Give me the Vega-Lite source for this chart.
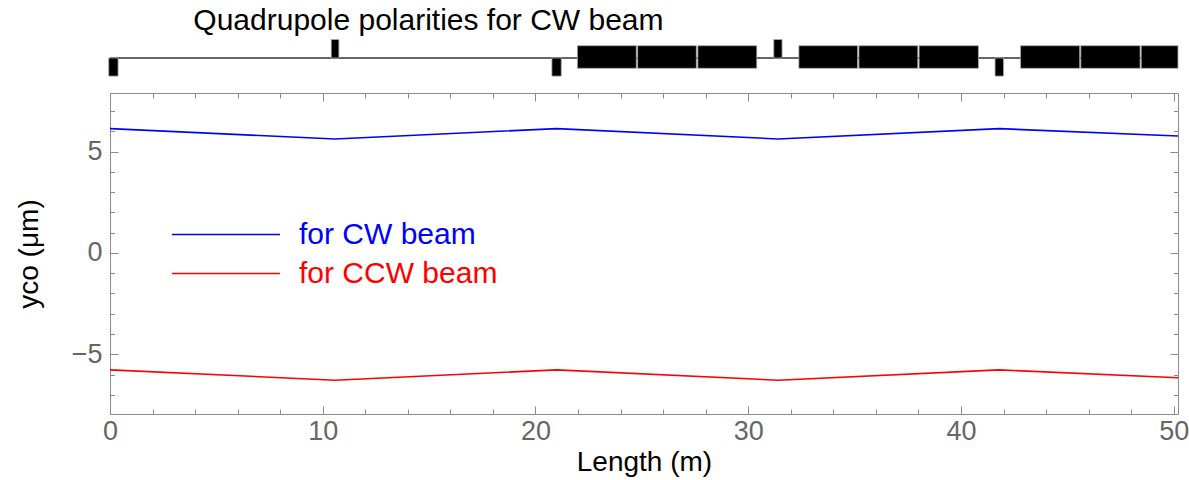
{
  "$schema": "https://vega.github.io/schema/vega-lite/v6.json",
  "background": "white",
  "padding": {"left": 15, "top": 6, "right": 5, "bottom": 2},
  "spacing": 15,
  "config": {
    "view": {"stroke": null},
    "font": "Liberation Sans",
    "axis": {
      "labelFont": "Liberation Sans",
      "titleFont": "Liberation Sans",
      "domainColor": "#8c8c8c",
      "tickColor": "#8c8c8c",
      "labelColor": "#666666",
      "titleColor": "#000000",
      "titleFontWeight": "normal",
      "labelFontSize": 27,
      "titleFontSize": 28,
      "grid": false,
      "labelOverlap": false,
      "labelFlush": false,
      "tickWidth": 1,
      "domainWidth": 1
    }
  },
  "vconcat": [
    {
      "width": 1068,
      "height": 38,
      "title": {
        "text": "Quadrupole polarities for CW beam",
        "anchor": "start",
        "dx": 85,
        "fontSize": 30,
        "fontWeight": "normal",
        "font": "Liberation Sans",
        "color": "#000000",
        "baseline": "alphabetic",
        "offset": -21
      },
      "layer": [
        {
          "data": {"values": [{}]},
          "mark": {"type": "rule", "color": "#333333", "strokeWidth": 1.5},
          "encoding": {
            "y": {"datum": 0, "type": "quantitative", "scale": {"domain": [-1.05, 1.05], "nice": false}, "axis": null}
          }
        },
        {
          "data": {"values": [
            {"element": "quad", "s_start": -0.06, "s_end": 0.38, "y_lo": -1, "y_hi": 0},
            {"element": "quad", "s_start": 10.40, "s_end": 10.76, "y_lo": 0, "y_hi": 1.02},
            {"element": "quad", "s_start": 20.77, "s_end": 21.21, "y_lo": -1, "y_hi": 0},
            {"element": "dipole", "s_start": 21.97, "s_end": 24.74, "y_lo": -0.57, "y_hi": 0.68},
            {"element": "dipole", "s_start": 24.80, "s_end": 27.56, "y_lo": -0.57, "y_hi": 0.68},
            {"element": "dipole", "s_start": 27.63, "s_end": 30.40, "y_lo": -0.57, "y_hi": 0.68},
            {"element": "quad", "s_start": 31.20, "s_end": 31.59, "y_lo": 0, "y_hi": 1.02},
            {"element": "dipole", "s_start": 32.38, "s_end": 35.14, "y_lo": -0.57, "y_hi": 0.68},
            {"element": "dipole", "s_start": 35.20, "s_end": 37.97, "y_lo": -0.57, "y_hi": 0.68},
            {"element": "dipole", "s_start": 38.03, "s_end": 40.82, "y_lo": -0.57, "y_hi": 0.68},
            {"element": "quad", "s_start": 41.60, "s_end": 42.00, "y_lo": -1, "y_hi": 0},
            {"element": "dipole", "s_start": 42.80, "s_end": 45.58, "y_lo": -0.57, "y_hi": 0.68},
            {"element": "dipole", "s_start": 45.63, "s_end": 48.42, "y_lo": -0.57, "y_hi": 0.68},
            {"element": "dipole", "s_start": 48.47, "s_end": 50.2, "y_lo": -0.57, "y_hi": 0.68}
          ]},
          "mark": {"type": "rect", "color": "#000000", "stroke": "#aaaaaa", "strokeWidth": 0.8},
          "encoding": {
            "x": {"field": "s_start", "type": "quantitative", "scale": {"domain": [0, 50.2], "nice": false, "zero": false}, "axis": null},
            "x2": {"field": "s_end"},
            "y": {"field": "y_lo", "type": "quantitative", "scale": {"domain": [-1.05, 1.05], "nice": false}, "axis": null},
            "y2": {"field": "y_hi"}
          }
        }
      ]
    },
    {
      "width": 1068,
      "height": 321,
      "data": {"values": [
        {"series": "for CW beam", "s": 0, "y": 6.14},
        {"series": "for CW beam", "s": 10.58, "y": 5.63},
        {"series": "for CW beam", "s": 21.0, "y": 6.14},
        {"series": "for CW beam", "s": 31.4, "y": 5.63},
        {"series": "for CW beam", "s": 41.8, "y": 6.14},
        {"series": "for CW beam", "s": 50.2, "y": 5.78},
        {"series": "for CCW beam", "s": 0, "y": -5.77},
        {"series": "for CCW beam", "s": 10.58, "y": -6.28},
        {"series": "for CCW beam", "s": 21.0, "y": -5.77},
        {"series": "for CCW beam", "s": 31.4, "y": -6.28},
        {"series": "for CCW beam", "s": 41.8, "y": -5.77},
        {"series": "for CCW beam", "s": 50.2, "y": -6.16}
      ]},
      "encoding": {
        "color": {
          "field": "series",
          "type": "nominal",
          "scale": {"domain": ["for CW beam", "for CCW beam"], "range": ["#0000ff", "#ff0000"]},
          "legend": {
            "orient": "none",
            "legendX": 61,
            "legendY": 178.6,
            "title": null,
            "symbolType": "stroke",
            "symbolSize": 11664,
            "symbolStrokeWidth": 1.5,
            "clipHeight": 34,
            "rowPadding": 5,
            "labelFontSize": 30,
            "labelFont": "Liberation Sans",
            "labelOffset": 18,
            "labelLimit": 0,
            "padding": 0,
            "encode": {
              "labels": {"update": {"fill": {"signal": "datum.value === 'for CW beam' ? '#0000ff' : '#ff0000'"}}}
            }
          }
        }
      },
      "layer": [
        {
          "transform": [{"filter": "datum.series === 'for CW beam'"}],
          "mark": {"type": "line", "strokeWidth": 1.6},
          "encoding": {
            "x": {
              "field": "s", "type": "quantitative",
              "scale": {"domain": [0, 50.2], "nice": false, "zero": false},
              "axis": {
                "orient": "bottom",
                "values": [0,2,4,6,8,10,12,14,16,18,20,22,24,26,28,30,32,34,36,38,40,42,44,46,48,50],
                "labelExpr": "datum.value % 10 === 0 ? datum.label : ''",
                "tickSize": {"condition": {"test": "datum.value % 10 === 0", "value": -8}, "value": -5},
                "labelPadding": 12,
                "title": "Length (m)",
                "titlePadding": 1
              }
            },
            "y": {
              "field": "y", "type": "quantitative",
              "scale": {"domain": [-7.95, 7.9], "nice": false, "zero": false},
              "axis": {
                "orient": "left",
                "values": [-7,-6,-5,-4,-3,-2,-1,0,1,2,3,4,5,6,7],
                "labelExpr": "datum.value % 5 === 0 ? datum.label : ''",
                "tickSize": {"condition": {"test": "datum.value % 5 === 0", "value": -8}, "value": -4.5},
                "labelPadding": 16,
                "title": "yco (μm)",
                "titlePadding": 28
              }
            }
          }
        },
        {
          "transform": [{"filter": "datum.series === 'for CCW beam'"}],
          "mark": {"type": "line", "strokeWidth": 1.6},
          "encoding": {
            "x": {
              "field": "s", "type": "quantitative",
              "scale": {"domain": [0, 50.2], "nice": false, "zero": false},
              "axis": {
                "orient": "top",
                "values": [0,2,4,6,8,10,12,14,16,18,20,22,24,26,28,30,32,34,36,38,40,42,44,46,48,50],
                "labels": false,
                "tickSize": {"condition": {"test": "datum.value % 10 === 0", "value": -8}, "value": -5},
                "title": null
              }
            },
            "y": {
              "field": "y", "type": "quantitative",
              "scale": {"domain": [-7.95, 7.9], "nice": false, "zero": false},
              "axis": {
                "orient": "right",
                "values": [-7,-6,-5,-4,-3,-2,-1,0,1,2,3,4,5,6,7],
                "labels": false,
                "tickSize": {"condition": {"test": "datum.value % 5 === 0", "value": -8}, "value": -4.5},
                "title": null
              }
            }
          }
        }
      ],
      "resolve": {"axis": {"x": "independent", "y": "independent"}}
    }
  ]
}
